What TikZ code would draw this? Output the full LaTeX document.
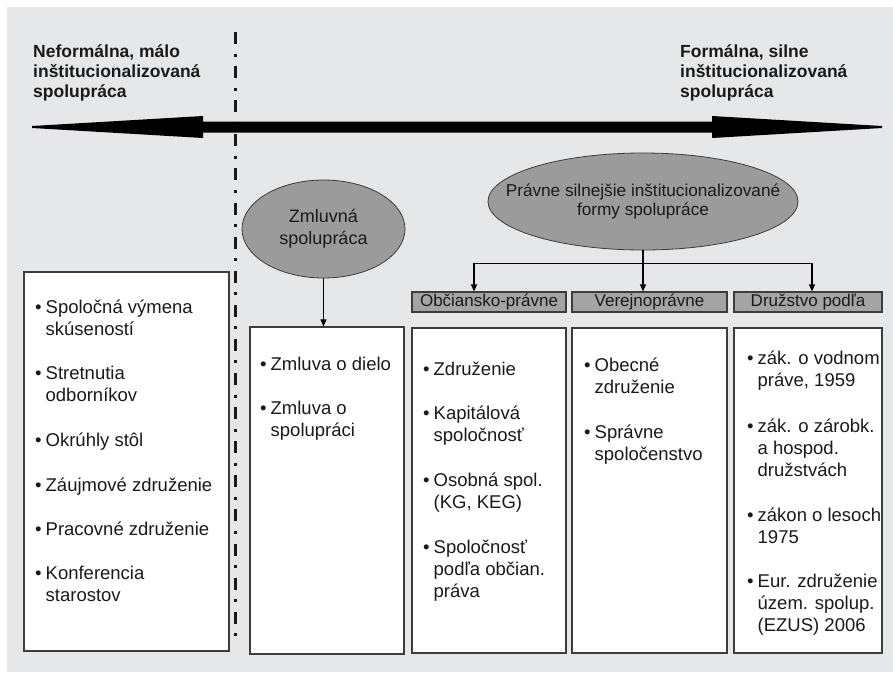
\documentclass[tikz,border=0pt]{standalone}
\usepackage{fontspec}
\setmainfont{Liberation Sans}
\usetikzlibrary{arrows.meta,calc,shapes.geometric}
\definecolor{bg}{HTML}{E6E7E8}
\definecolor{ellfill}{HTML}{9B9B9B}
\definecolor{hdrfill}{HTML}{A4A4A4}
\definecolor{edge}{HTML}{3C3C3C}
\definecolor{ink}{HTML}{1A1A1A}
\newcommand\bodyfont{\fontsize{18.5}{22}\selectfont}
\newcommand\bitem[4]{\node[itm] (#1) at (#2,#3) {\begin{tabular}[t]{@{}l@{\hspace{4pt}}l@{}}#4\end{tabular}};}
\begin{document}
\begin{tikzpicture}[x=1pt,y=-1pt,
  itm/.style={anchor=base west, inner sep=0pt, font=\bodyfont, text=ink},
  box/.style={draw=edge, line width=1.2pt, fill=white, inner sep=0pt},
  hdr/.style={draw=edge, line width=1.2pt, fill=hdrfill, inner sep=0pt, minimum height=20pt, font=\fontsize{17}{20}\selectfont, text=ink},
  ell/.style={ellipse, draw=edge, line width=0.8pt, fill=ellfill, inner sep=0pt},
  etxt/.style={inner sep=0pt, align=center, text=ink},
  ttl/.style={anchor=base west, inner sep=0pt, font=\bfseries\fontsize{17.5}{20}\selectfont, text=ink},
  arr/.style={line width=1.2pt, -{Triangle[length=7pt,width=6pt]}}]
\useasboundingbox (0,0) rectangle (893,672);
\fill[bg] (7,7) rectangle (893,672);

% titles
\node[ttl] (tl) at (33,57) {\begin{tabular}[t]{@{}l@{}}Neformálna, málo\\inštitucionalizovaná\\spolupráca\end{tabular}};
\node[ttl] (tr) at (680,57) {\begin{tabular}[t]{@{}l@{}}Formálna, silne\\inštitucionalizovaná\\spolupráca\end{tabular}};

% dash-dot divider
\draw[ink, line width=3pt, dash pattern=on 12pt off 9.5pt on 3pt off 9.6pt] (235,32) -- (235,637);

% big double arrow
\fill[black] (32,126) -- (203,116) -- (203,121.5) -- (712,121.5) -- (712,116) -- (882,126) -- (882,128) -- (712,138) -- (712,132.5) -- (203,132.5) -- (203,138) -- (32,128) -- cycle;

% ellipses
\node[ell, minimum width=163pt, minimum height=98pt] (zm) at (323.5,229) {};
\node[etxt, font=\fontsize{18}{22}\selectfont] (zmt) at (zm) {Zmluvná\\spolupráca};
\node[ell, minimum width=310pt, minimum height=97pt] (pr) at (643,201.5) {};
\node[etxt, font=\fontsize{17.2}{19.5}\selectfont] (prt) at (pr) {Právne silnejšie inštitucionalizované\\formy spolupráce};

% headers
\node[hdr, minimum width=154pt] (h1) at (489,302) {Občiansko-právne};
\node[hdr, minimum width=155pt] (h2) at (649.5,302) {Verejnoprávne};
\node[hdr, minimum width=148pt] (h3) at (808,302) {Družstvo podľa};

% boxes
\node[box, minimum width=205pt, minimum height=379pt] (lbox) at (126.5,461.5) {};
\node[box, minimum width=154pt, minimum height=327pt] (zbox) at (327,490.5) {};
\node[box, minimum width=154pt, minimum height=325pt] (c1) at (489,490.5) {};
\node[box, minimum width=155pt, minimum height=325pt] (c2) at (649.5,490.5) {};
\node[box, minimum width=148pt, minimum height=325pt] (c3) at (808,490.5) {};

% connectors
\draw[arr] (zm.south) -- (zm.south |- zbox.north);
\coordinate (br) at ($(pr.south)+(0,13)$);
\draw[line width=1.2pt] (pr.south) -- (br);
\draw[arr] (br) -| ($(h1.north)+(-15,0)$);
\draw[arr] (br) -- (br |- h2.north);
\draw[arr] (br) -| ($(h3.north)+(4,0)$);

% left box items
\bitem{l1}{35}{313}{• & Spoločná výmena\\ & skúseností}
\bitem{l2}{35}{379}{• & Stretnutia\\ & odborníkov}
\bitem{l3}{35}{446}{• & Okrúhly stôl}
\bitem{l4}{35}{491}{• & Záujmové združenie}
\bitem{l5}{35}{535}{• & Pracovné združenie}
\bitem{l6}{35}{579}{• & Konferencia\\ & starostov}

% zmluva box
\bitem{z1}{260}{370}{• & Zmluva o dielo}
\bitem{z2}{260}{414}{• & Zmluva o\\ & spolupráci}

% obciansko
\bitem{a1}{423}{375}{• & Združenie}
\bitem{a2}{423}{419}{• & Kapitálová\\ & spoločnosť}
\bitem{a3}{423}{486}{• & Osobná spol.\\ & (KG, KEG)}
\bitem{a4}{423}{553}{• & Spoločnosť\\ & podľa občian.\\ & práva}

% verejno
\bitem{b1}{584}{371}{• & Obecné\\ & združenie}
\bitem{b2}{584}{438}{• & Správne\\ & spoločenstvo}

% druzstvo
\bitem{d1}{747}{364}{• & zák. o vodnom\\ & práve, 1959}
\bitem{d2}{747}{432}{• & zák. o zárobk.\\ & a hospod.\\ & družstvách}
\bitem{d3}{747}{521}{• & zákon o lesoch\\ & 1975}
\bitem{d4}{747}{587}{• & Eur. združenie\\ & územ. spolup.\\ & (EZUS) 2006}
\end{tikzpicture}
\end{document}
